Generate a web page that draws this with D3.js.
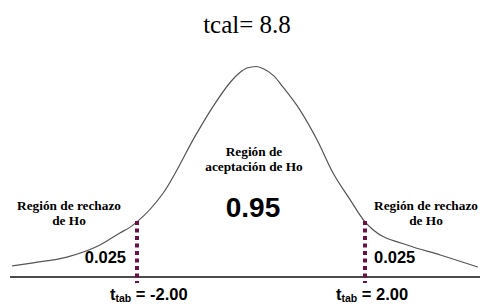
<!DOCTYPE html>
<html>
<head>
<meta charset="utf-8">
<script src="https://cdn.jsdelivr.net/npm/d3@7"></script>
<style>
  body { margin: 0; background: #fff; }
  svg { display: block; }
  .serif { font-family: "Liberation Serif", "Times New Roman", serif; }
  .sans { font-family: "Liberation Sans", Arial, sans-serif; font-weight: bold; }
</style>
</head>
<body>
<div id="chart"></div>
<script>
var svgWidth = 480;
var svgHeight = 304;

// curve: t value and density
var curveT = [-4.19, -3.82, -3.23, -2.65, -2.30, -2.12, -2.00, -1.54, -0.95, -0.67, -0.37, -0.20, -0.07,
  0.09, 0.21, 0.40, 0.56, 0.86, 1.16, 1.44, 1.74, 2.00, 2.14, 2.74, 3.32, 3.98];
var curveDensity = [0.021, 0.027, 0.038, 0.061, 0.084, 0.095, 0.105, 0.160, 0.274, 0.324, 0.370, 0.389, 0.398,
  0.401, 0.397, 0.383, 0.362, 0.318, 0.261, 0.198, 0.147, 0.105, 0.090, 0.061, 0.042, 0.019];

var criticalT = [-2.00, 2.00];
var criticalLabels = ["-2.00", "2.00"];
var tailArea = "0.025";
var centerArea = "0.95";
var title = "tcal= 8.8";

var svg = d3.select("#chart")
  .append("svg")
  .attr("width", svgWidth)
  .attr("height", svgHeight);

var x = d3.scaleLinear().domain([-2, 2]).range([137, 365]);
var y = d3.scaleLinear().domain([0, 0.4]).range([277, 67]);

var pts = curveT.map((t, i) => [t, curveDensity[i]]);

// baseline
svg.append("line")
  .attr("x1", 10).attr("x2", 480)
  .attr("y1", y(0)).attr("y2", y(0))
  .attr("stroke", "#111")
  .attr("stroke-width", 1.3);

// density curve
var line = d3.line()
  .x(d => x(d[0]))
  .y(d => y(d[1]))
  .curve(d3.curveMonotoneX);

svg.append("path")
  .datum(pts)
  .attr("d", line)
  .attr("fill", "none")
  .attr("stroke", "#555")
  .attr("stroke-width", 1.2);

// critical value lines, from the curve down below the axis
svg.selectAll(".crit")
  .data(criticalT)
  .enter()
  .append("line")
  .attr("class", "crit")
  .attr("x1", d => x(d)).attr("x2", d => x(d))
  .attr("y1", d => y(curveDensity[curveT.indexOf(d)]) - 1)
  .attr("y2", y(0) + 6)
  .attr("stroke", "#6d1045")
  .attr("stroke-width", 4)
  .attr("stroke-dasharray", "4,3.5");

// title
svg.append("text")
  .attr("class", "serif")
  .attr("x", 247).attr("y", 33)
  .attr("text-anchor", "middle")
  .attr("font-size", 25)
  .text(title);

// region labels
function regionLabel(cx, y0, lines) {
  var t = svg.append("text")
    .attr("class", "serif")
    .attr("text-anchor", "middle")
    .attr("font-size", 13.3)
    .attr("font-weight", "bold");
  lines.forEach((s, i) => {
    t.append("tspan").attr("x", cx).attr("y", y0 + i * 14.5).text(s);
  });
}
regionLabel(69, 210, ["Región de rechazo", "de Ho"]);
regionLabel(426, 210, ["Región de rechazo", "de Ho"]);
regionLabel(254, 156, ["Región de", "aceptación de Ho"]);

// areas
svg.append("text")
  .attr("class", "sans")
  .attr("x", 253).attr("y", 217)
  .attr("text-anchor", "middle")
  .attr("font-size", 28)
  .text(centerArea);

svg.append("text")
  .attr("class", "sans")
  .attr("x", x(criticalT[0]) - 11).attr("y", 263)
  .attr("text-anchor", "end")
  .attr("font-size", 16.5)
  .text(tailArea);

svg.append("text")
  .attr("class", "sans")
  .attr("x", x(criticalT[1]) + 9).attr("y", 263)
  .attr("text-anchor", "start")
  .attr("font-size", 16.5)
  .text(tailArea);

// t tab labels
criticalT.forEach(function (d, i) {
  var t = svg.append("text")
    .attr("class", "sans")
    .attr("x", i === 0 ? 110 : 336)
    .attr("y", 300)
    .attr("font-size", 16.5);
  t.append("tspan").text("t");
  t.append("tspan").attr("font-size", 10.5).attr("dy", 2).text("tab");
  t.append("tspan").attr("dy", -2).text(" = " + criticalLabels[i]);
});
</script>
</body>
</html>
